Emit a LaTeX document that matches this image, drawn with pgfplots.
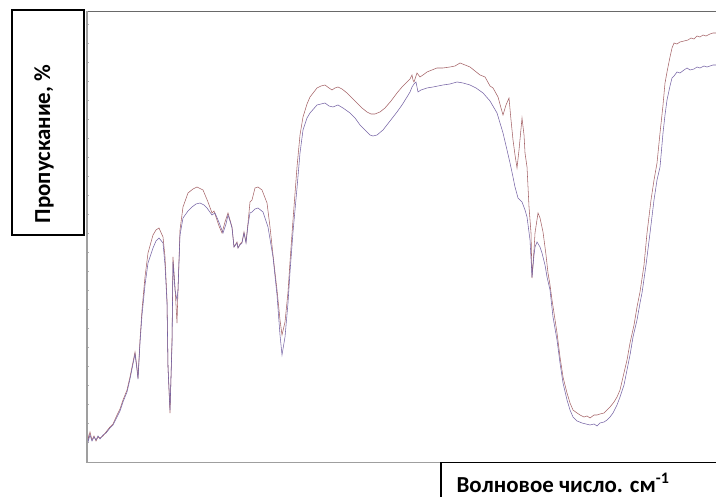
\documentclass[border=0pt]{standalone}
\usepackage{fontspec}
\setmainfont{Carlito}
\usepackage{pgfplots}
\pgfplotsset{compat=1.18}
\definecolor{upperc}{RGB}{165,100,104}
\definecolor{lowerc}{RGB}{118,100,165}
\definecolor{framec}{RGB}{105,105,105}

\begin{document}
\begin{tikzpicture}[x=1bp,y=1bp]
\path[use as bounding box] (0,0) rectangle (716,497);
\begin{axis}[
    at={(87bp,34bp)}, anchor=south west,
    scale only axis, width=629bp, height=452bp,
    xmin=87, xmax=716, ymin=0, ymax=452,
    axis line style={draw=none},
    xtick=\empty,
    ytick={21,40,...,440}, yticklabels={}, ytick pos=left,
    tick align=inside, major tick length=2bp,
    tick style={draw=gray!60, line width=0.5bp},
    clip=true,
]
% upper spectrum
\addplot[upperc, line width=0.55bp] coordinates {
(87,46) (88,23) (90,31) (92,23) (94,27) (96,22) (98,26) (100,25) (103,27) (106,31)
(110,36) (113,39) (117,48) (120,54) (123,63) (127,73) (130,86) (132,96) (135,111) (137,95)
(138,85) (140,123) (142,153) (145,186) (148,210) (153,228) (156,233) (159,235) (163,226) (165,206)
(167,163) (168,96) (170,50) (172,123) (173,206) (175,176) (177,140) (178,173) (180,233) (183,256)
(188,270) (193,274) (197,276) (203,273) (208,261) (212,250) (214,252) (217,243) (219,237) (222,230)
(225,241) (228,250) (230,243) (232,236) (234,216) (237,221) (238,215) (240,219) (242,221) (244,231)
(246,221) (248,240) (250,261) (252,263) (255,275) (258,276) (262,273) (267,260) (270,236) (273,208)
(277,173) (280,143) (282,128) (285,141) (288,171) (290,201) (293,243) (297,296) (300,328) (303,346)
(307,359) (310,366) (317,375) (321,377) (325,378) (329,375) (332,373) (335,375) (338,376) (342,374)
(347,370) (352,365) (357,360) (362,355) (367,351) (371,349) (375,349) (380,351) (385,355) (391,362)
(397,370) (402,376) (407,381) (410,384) (412,388) (413,383) (414,381) (416,387) (417,390) (420,386)
(423,388) (427,391) (432,393) (437,395) (443,395) (450,396) (455,397) (460,400) (465,398) (470,396)
(475,392) (480,388) (485,386) (490,377) (493,375) (498,366) (501,355) (503,348) (506,358) (509,365)
(511,343) (513,323) (515,308) (517,295) (519,313) (522,345) (524,328) (525,310) (527,296) (529,256)
(531,230) (532,185) (534,213) (535,230) (538,250) (540,245) (543,231) (546,208) (548,190) (550,178)
(552,163) (554,150) (557,130) (560,106) (563,86) (567,70) (570,60) (573,53) (577,50) (580,48)
(584,46) (587,47) (590,45) (594,48) (597,48) (600,49) (604,50) (607,53) (610,56) (614,61)
(617,66) (620,73) (623,86) (627,103) (630,120) (634,138) (637,156) (640,171) (644,198) (647,230)
(651,263) (654,283) (657,300) (660,330) (663,358) (665,380) (667,391) (670,406) (672,415) (674,420)
(677,419) (680,421) (684,422) (688,423) (691,425) (694,424) (697,427) (700,426) (703,428) (706,427)
(710,429) (713,430) (716,430)
};
% lower spectrum
\addplot[lowerc, line width=0.55bp] coordinates {
(87,48) (88,21) (90,28) (92,22) (94,26) (96,23) (98,27) (100,24) (103,28) (106,30)
(110,35) (113,38) (117,46) (120,52) (123,61) (127,71) (130,84) (132,94) (135,109) (137,93)
(138,84) (140,120) (142,148) (145,178) (148,200) (153,215) (156,222) (159,225) (163,220) (165,198)
(167,160) (168,96) (170,53) (172,118) (173,201) (175,173) (177,163) (178,173) (180,228) (183,245)
(188,252) (192,256) (196,259) (200,260) (204,258) (207,255) (212,248) (215,250) (218,243) (220,238)
(223,230) (226,239) (228,248) (230,242) (232,235) (234,216) (237,220) (238,215) (240,218) (242,220)
(244,230) (246,220) (248,238) (250,250) (252,251) (255,254) (258,255) (263,251) (268,236) (273,206)
(277,168) (280,128) (282,108) (285,126) (288,160) (290,191) (293,231) (297,275) (300,310) (303,333)
(307,345) (310,350) (317,358) (321,359) (325,360) (329,357) (333,356) (338,358) (343,355) (350,350)
(355,345) (360,338) (364,334) (367,331) (370,328) (373,327) (377,328) (383,333) (390,342) (397,351)
(402,358) (407,366) (410,371) (412,376) (414,379) (416,381) (418,371) (421,373) (427,375) (433,376)
(438,377) (443,378) (450,379) (457,381) (463,380) (470,378) (476,375) (483,370) (490,362) (497,350)
(503,330) (507,313) (510,300) (513,286) (515,276) (518,265) (520,263) (522,261) (525,253) (527,246)
(530,223) (532,186) (534,208) (535,216) (537,221) (540,216) (542,210) (545,198) (547,186) (550,173)
(553,146) (557,123) (560,100) (563,80) (567,63) (570,53) (573,46) (577,42) (582,40) (586,39)
(590,38) (594,39) (597,37) (600,40) (604,41) (607,43) (610,46) (613,50) (617,58) (620,66)
(624,78) (627,93) (630,108) (633,126) (637,143) (640,160) (642,170) (646,198) (650,230) (654,263)
(657,283) (660,296) (663,330) (665,348) (667,363) (670,377) (672,385) (674,387) (677,391) (680,390)
(684,393) (687,395) (690,393) (694,394) (697,396) (700,395) (704,397) (707,396) (710,397) (713,398)
(716,398)
};
\end{axis}
% frame lines
\draw[framec, line width=0.9bp] (87,486) -- (716,486);
\draw[gray!75, line width=1.6bp] (87,34) -- (87,486.4);
\draw[gray!75, line width=1.2bp] (87,34.6) -- (441,34.6);
% y label box
\draw[line width=1.6bp] (12,262) rectangle (84,487);
\node[rotate=90, font=\fontsize{23}{26}\selectfont\bfseries] at (44,353) {Пропускание, \%};
% x label box
\draw[line width=1.6bp] (441,-2) -- (441,34.6) -- (718,34.6);
\node[font=\fontsize{23}{26}\selectfont\bfseries] at (563,14) {Волновое число. см\textsuperscript{-1}};
\end{tikzpicture}
\end{document}
